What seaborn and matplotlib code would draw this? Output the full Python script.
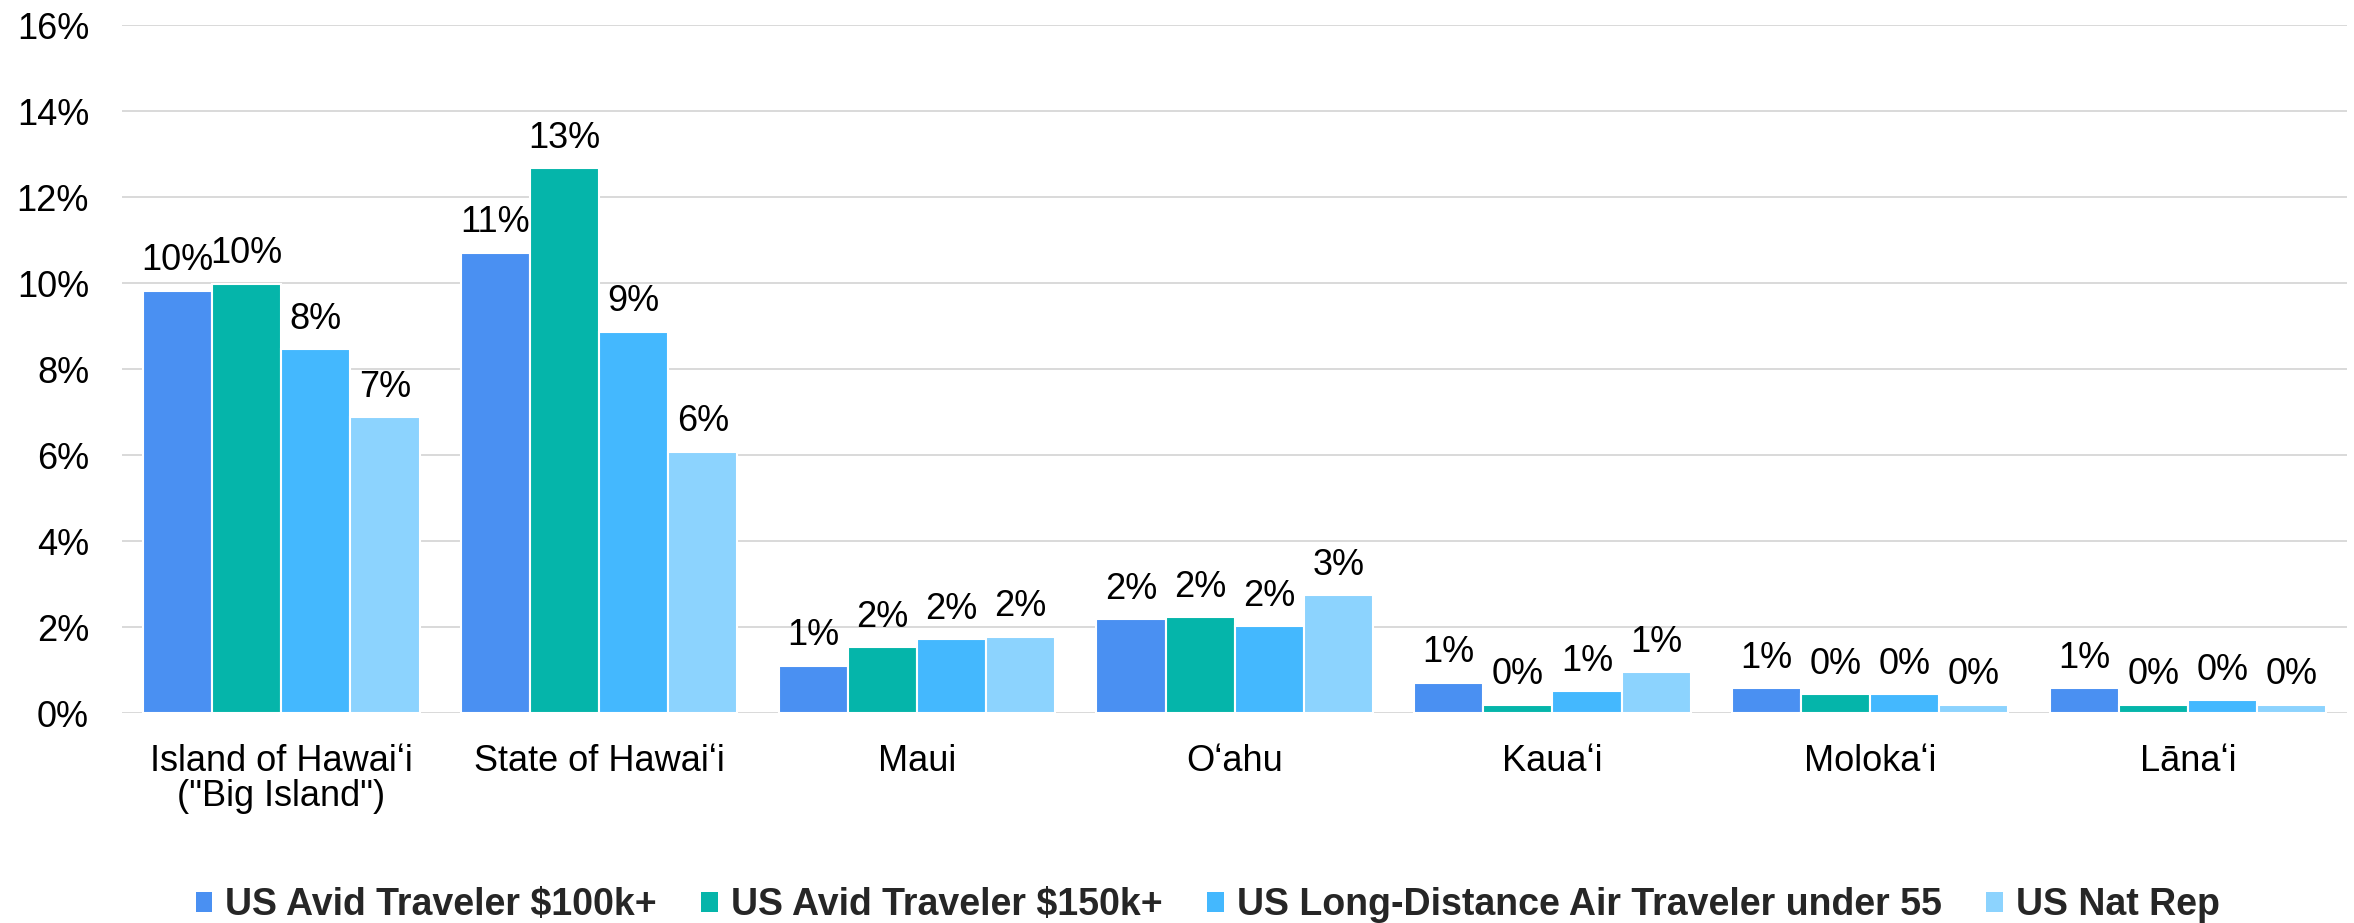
import matplotlib
matplotlib.use("Agg")
import matplotlib.pyplot as plt
import seaborn as sns
import pandas as pd
from matplotlib.patches import Patch

categories = ["Island of Hawaiʻi\n(\"Big Island\")", "State of Hawaiʻi", "Maui", "Oʻahu",
              "Kauaʻi", "Molokaʻi", "Lānaʻi"]
series = ["US Avid Traveler $100k+", "US Avid Traveler $150k+",
          "US Long-Distance Air Traveler under 55", "US Nat Rep"]
avid_100k = [9.82, 10.71, 1.10, 2.18, 0.70, 0.58, 0.58]
avid_150k = [9.99, 12.68, 1.53, 2.23, 0.19, 0.44, 0.19]
long_dist = [8.46, 8.87, 1.72, 2.02, 0.51, 0.44, 0.30]
nat_rep = [6.88, 6.08, 1.78, 2.74, 0.95, 0.19, 0.19]
colors = ["#4A90F2", "#05B5AA", "#44B8FE", "#8CD3FE"]
yticks = [0, 2, 4, 6, 8, 10, 12, 14, 16]

rows = []
for s, vals in zip(series, [avid_100k, avid_150k, long_dist, nat_rep]):
    for c, v in zip(categories, vals):
        rows.append({"cat": c, "series": s, "value": v})
df = pd.DataFrame(rows)

sns.set_theme(style="white")
plt.rcParams["font.family"] = ["Liberation Sans", "DejaVu Sans"]

FS = 26

fig = plt.figure(figsize=(23.54, 9.23), dpi=100)
ax = fig.add_axes([0.052, 0.2275, 0.945, 0.745])

sns.barplot(data=df, x="cat", y="value", hue="series", order=categories,
            hue_order=series, palette=colors, width=0.87, ax=ax,
            edgecolor="white", linewidth=1.5, legend=False, errorbar=None,
            saturation=1)

for cont in ax.containers:
    ax.bar_label(cont, labels=[f"{v:.0f}%" for v in cont.datavalues],
                 padding=9, fontsize=FS, color="black")

ax.set_ylim(0, 16)
ax.set_yticks(yticks)
ax.set_yticklabels([f"{t}%" for t in yticks], fontsize=FS, color="black")
ax.set_xlabel("")
ax.set_ylabel("")
ax.tick_params(axis="y", pad=24, length=0)
ax.tick_params(axis="x", pad=22, length=0, labelsize=FS, labelcolor="black")
for lab in ax.get_xticklabels():
    lab.set_linespacing(1.0)
for sp in ax.spines.values():
    sp.set_visible(False)
ax.yaxis.grid(True, color="#D9D9D9", linewidth=1.4)
ax.set_axisbelow(True)

handles = [Patch(facecolor=c, edgecolor="none") for c in colors]
leg = fig.legend(handles, series, loc="center", bbox_to_anchor=(0.513, 0.019),
                 ncol=4, frameon=False, handlelength=0.45, handleheight=0.45,
                 handletextpad=0.33, columnspacing=1.2,
                 prop={"size": 27, "weight": "bold"})

fig.savefig("out.png", dpi=100, facecolor="white")
